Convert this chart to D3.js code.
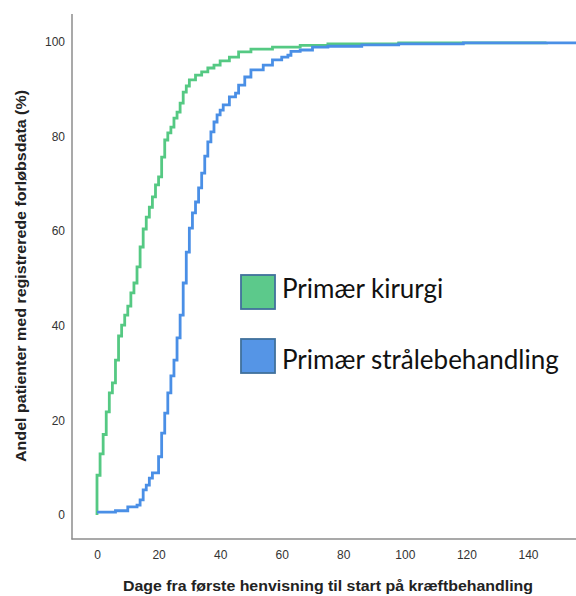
<!DOCTYPE html>
<html><head><meta charset="utf-8">
<script src="https://cdn.jsdelivr.net/npm/d3@7"></script>
<style>html,body{margin:0;padding:0;background:#fff;}svg{display:block;}</style>
</head><body>
<svg id="chart" width="576" height="596"></svg>
<script>
const xTicks = [0, 20, 40, 60, 80, 100, 120, 140];
const yTicks = [0, 20, 40, 60, 80, 100];
const seriesNames = ["Primær kirurgi", "Primær strålebehandling"];
const xTitle = "Dage fra første henvisning til start på kræftbehandling";
const yTitle = "Andel patienter med registrerede forløbsdata (%)";

const kirurgiDays = [0,0,1,2,3,4,5,6,7,8,9,10,11,12,13,14,15,16,17,18,19,20,21,22,23,24,25,26,27,28,29,30,32,34,36,38,40,43,46,50,57,66,75,98,146];
const kirurgiPct  = [0,8.4,12.9,17,21.8,25.8,27.9,32.7,37.8,40.1,42.2,44.1,46.9,49,52.4,56.6,60.4,62.9,65,67.2,69.7,71.4,75.6,79.2,80.7,81.9,83.8,85.1,87,89.3,90.6,91.9,92.9,93.6,94.4,95,95.9,96.7,97.8,98.4,98.8,99.2,99.5,99.7,99.8];

const straaleDays = [0,6,10,13,14,15,16,17,18,20,21,22,23,24,25,26,27,28,29,30,31,32,33,34,35,36,37,38,39,40,41,43,45,46,48,50,54,57,60,62,63,66,70,75,86,98,119,156];
const straalePct  = [0.6,0.9,1.7,2.1,3.2,5.3,6.3,7.8,8.9,12.3,17.3,21.5,25.8,29.4,32.7,37.4,42.2,49,55.5,60.6,63.8,66.1,69.1,72.2,75.8,78.8,80.9,83,84.5,85.5,86.6,88.3,89.1,90.8,92.5,94,95,96.1,96.7,97.1,97.9,98.2,98.8,99.0,99.3,99.5,99.7,99.8];

const colors = ["#55c983", "#4a8fe6"];
const legendFill = ["#5cc98b", "#5595e6"];

const svg = d3.select("#chart");
const x = d3.scaleLinear().domain([0, 140]).range([97, 528]);
const y = d3.scaleLinear().domain([0, 100]).range([515, 41.5]);

svg.append("defs").append("clipPath").attr("id","clip")
  .append("rect").attr("x",73).attr("y",10).attr("width",503).attr("height",528);

// axis lines
svg.append("line").attr("x1",72).attr("x2",72).attr("y1",14).attr("y2",539.5)
  .attr("stroke","#8c8c8c").attr("stroke-width",1.5);
svg.append("line").attr("x1",71.5).attr("x2",576).attr("y1",539).attr("y2",539)
  .attr("stroke","#8c8c8c").attr("stroke-width",1.5);

const fontAx = "'Liberation Sans', Arial, sans-serif";

const gx = svg.append("g").attr("transform","translate(0,539)")
  .call(d3.axisBottom(x).tickValues(xTicks).tickSize(0).tickPadding(11).tickFormat(d3.format("d")));
gx.select(".domain").remove();
gx.selectAll("text").attr("font-family",fontAx).attr("font-size","12px").attr("fill","#333");

const gy = svg.append("g").attr("transform","translate(72,0)")
  .call(d3.axisLeft(y).tickValues(yTicks).tickSize(0).tickPadding(7).tickFormat(d3.format("d")));
gy.select(".domain").remove();
gy.selectAll("text").attr("font-family",fontAx).attr("font-size","12px").attr("fill","#333");

const line = d3.line().x(d => x(d[0])).y(d => y(d[1])).curve(d3.curveStepAfter);
const series = [
  d3.zip(kirurgiDays, kirurgiPct),
  d3.zip(straaleDays, straalePct)
];
svg.append("g").attr("clip-path","url(#clip)").selectAll("path").data(series).join("path")
  .attr("d", line).attr("fill","none")
  .attr("stroke",(d,i)=>colors[i]).attr("stroke-width",2.8)
  .attr("stroke-linejoin","miter");

// axis titles
svg.append("text").attr("x",328).attr("y",591).attr("text-anchor","middle")
  .attr("font-family",fontAx).attr("font-weight","bold").attr("font-size","15px").attr("fill","#222")
  .attr("textLength",410).attr("lengthAdjust","spacingAndGlyphs")
  .text(xTitle);
svg.append("text").attr("transform","translate(26,276) rotate(-90)").attr("text-anchor","middle")
  .attr("font-family",fontAx).attr("font-weight","bold").attr("font-size","14.5px").attr("fill","#222")
  .attr("textLength",372).attr("lengthAdjust","spacingAndGlyphs")
  .text(yTitle);

// legend
const leg = svg.append("g");
const legY = [275, 339];
const legBase = [298, 369];
seriesNames.forEach((n,i)=>{
  leg.append("rect").attr("x",241).attr("y",legY[i]).attr("width",34).attr("height",34)
    .attr("fill",legendFill[i]).attr("stroke","#41719c").attr("stroke-width",1.8);
  leg.append("text").attr("x",282).attr("y",legBase[i])
    .attr("font-family","Lato, 'Open Sans', sans-serif").attr("font-size","26px").attr("fill","#111")
    .text(n);
});
</script>
</body></html>
